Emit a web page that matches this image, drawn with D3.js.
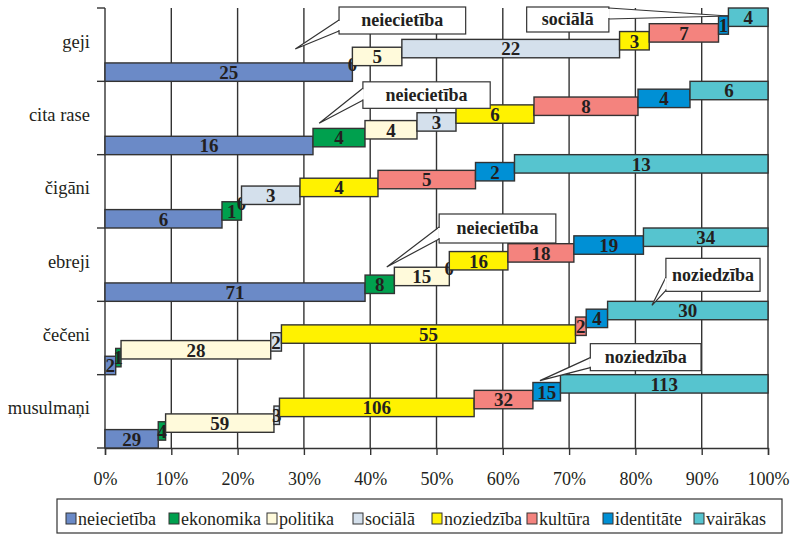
<!DOCTYPE html>
<html>
<head>
<meta charset="utf-8">
<title>Stacked bars</title>
<script src="https://cdn.jsdelivr.net/npm/d3@7"></script>
<style>
  body { margin: 0; background: #fff; }
  svg { display: block; }
  svg text { font-family: "Liberation Serif", "Times New Roman", serif; }
</style>
</head>
<body>
<div class="chart"></div>
<script>
const categories = ["geji", "cita rase", "čigāni", "ebreji", "čečeni", "musulmaņi"];
const seriesNames = ["neiecietība", "ekonomika", "politika", "sociālā", "noziedzība", "kultūra", "identitāte", "vairākas"];
const seriesColors = ["#6b8ac7", "#00a04e", "#fffadb", "#d4e0ec", "#fff200", "#f4837e", "#0090d5", "#56c4cf"];
// one row per category, one value per series
const values = [
    [25, 0, 5, 22, 3, 7, 1, 4],
    [16, 4, 4, 3, 6, 8, 4, 6],
    [6, 1, 0, 3, 4, 5, 2, 13],
    [71, 8, 15, 0, 16, 18, 19, 34],
    [2, 1, 28, 2, 55, 2, 4, 30],
    [29, 4, 59, 3, 106, 32, 15, 113]
];
const xTicks = [0, 10, 20, 30, 40, 50, 60, 70, 80, 90, 100];
// callouts: box corners in % / px from band top, wedge base and tip
const callouts = [
    {cat: "geji", text: "neiecietība", bx0: 35.3, bx1: 54.4, by0: -1, by1: 26, side: "left", base: [12, 23], tip: [28.7, 41]},
    {cat: "geji", text: "sociālā", bx0: 63.6, bx1: 76.0, by0: -1, by1: 24, side: "right", base: [0, 11], tip: [94.0, 8]},
    {cat: "cita rase", text: "neiecietība", bx0: 38.9, bx1: 58.1, by0: 0.5, by1: 27, side: "left", base: [7, 19], tip: [32.3, 42]},
    {cat: "ebreji", text: "neiecietība", bx0: 50.4, bx1: 68.0, by0: -14, by1: 15, side: "left", base: [-1, 11], tip: [42.5, 39]},
    {cat: "čečeni", text: "noziedzība", bx0: 84.6, bx1: 98.8, by0: -43, by1: -10, side: "left", base: [-24, -11], tip: [82.5, 4]},
    {cat: "musulmaņi", text: "noziedzība", bx0: 73.2, bx1: 89.9, by0: -31, by1: -4, side: "left", base: [-17, -7], tip: [65.6, 6]}
];
const legendX = [66, 169, 267, 353, 432, 527, 603, 694];

const ink = "#231f20";

const svg = d3.select(".chart").append("svg")
    .attr("width", 794)
    .attr("height", 535);

const x = d3.scaleLinear().domain([0, 100]).range([105, 768]);
const y = d3.scaleBand().domain(categories).range([8, 448]).padding(0);
const barH = 18.4;
const step = d3.scaleLinear().domain([0, seriesNames.length - 1]).range([y.bandwidth() - barH, 0]);

// grid lines
svg.append("g")
    .selectAll("line")
    .data(xTicks.slice(1))
    .join("line")
    .attr("x1", d => x(d)).attr("x2", d => x(d))
    .attr("y1", 8).attr("y2", 448)
    .attr("stroke", "#333").attr("stroke-width", 1.4);

// axes
const xAxis = svg.append("g")
    .attr("transform", "translate(0,448)")
    .call(d3.axisBottom(x).tickValues(xTicks).tickFormat(d => d + "%").tickSize(7).tickPadding(17));
xAxis.attr("font-family", null).attr("font-size", null);
xAxis.select(".domain").attr("stroke", "#333").attr("stroke-width", 1.4);
xAxis.selectAll(".tick line").attr("stroke", "#333").attr("stroke-width", 1.4);
xAxis.selectAll(".tick text")
    .attr("font-size", "18px").attr("fill", ink);

const yAxisG = svg.append("g");
yAxisG.append("line")
    .attr("x1", 105).attr("x2", 105).attr("y1", 8).attr("y2", 448)
    .attr("stroke", "#333").attr("stroke-width", 1.4);
const bounds = categories.map(c => y(c)).concat([y(categories[categories.length - 1]) + y.bandwidth()]);
yAxisG.selectAll("line.tk")
    .data(bounds)
    .join("line")
    .attr("class", "tk")
    .attr("x1", 97).attr("x2", 105)
    .attr("y1", d => d).attr("y2", d => d)
    .attr("stroke", "#333").attr("stroke-width", 1.4);
yAxisG.selectAll("text")
    .data(categories)
    .join("text")
    .attr("x", 90)
    .attr("y", d => y(d) + y.bandwidth() / 2 + 3)
    .attr("text-anchor", "end")
    .attr("font-size", "18.5px").attr("fill", ink)
    .text(d => d);

// segments, drawn series by series so later bars overlap earlier labels
const segs = [];
categories.forEach((c, ci) => {
    const total = d3.sum(values[ci]);
    let cum = 0;
    values[ci].forEach((v, si) => {
        segs.push({cat: c, s: si, v: v, p0: cum / total * 100, p1: (cum + v) / total * 100});
        cum += v;
    });
});

const bars = svg.append("g");
seriesNames.forEach((name, si) => {
    const g = bars.append("g");
    const data = segs.filter(d => d.s === si);
    g.selectAll("rect")
        .data(data.filter(d => d.v > 0))
        .join("rect")
        .attr("x", d => x(d.p0))
        .attr("y", d => y(d.cat) + step(si))
        .attr("width", d => x(d.p1) - x(d.p0))
        .attr("height", barH)
        .attr("fill", seriesColors[si])
        .attr("stroke", "#333")
        .attr("stroke-width", 1.4);
    g.selectAll("text")
        .data(data)
        .join("text")
        .attr("x", d => x((d.p0 + d.p1) / 2))
        .attr("y", d => y(d.cat) + step(si) + barH / 2)
        .attr("dy", "0.36em")
        .attr("text-anchor", "middle")
        .attr("font-size", "19px").attr("font-weight", "bold")
        .attr("fill", ink)
        .text(d => d.v);
});

// callouts
const co = svg.append("g");
callouts.forEach(c => {
    const top = y(c.cat);
    const bx = c.side === "left" ? x(c.bx0) : x(c.bx1);
    co.append("path")
        .attr("d", `M${bx},${top + c.base[0]}L${x(c.tip[0])},${top + c.tip[1]}L${bx},${top + c.base[1]}`)
        .attr("fill", "#fff").attr("stroke", "#333").attr("stroke-width", 1.2);
    co.append("rect")
        .attr("x", x(c.bx0)).attr("y", top + c.by0)
        .attr("width", x(c.bx1) - x(c.bx0)).attr("height", c.by1 - c.by0)
        .attr("fill", "#fff").attr("stroke", "#333").attr("stroke-width", 1.2);
    // hide the box edge where the wedge joins
    co.append("line")
        .attr("x1", bx).attr("x2", bx)
        .attr("y1", top + c.base[0] + 1).attr("y2", top + c.base[1] - 1)
        .attr("stroke", "#fff").attr("stroke-width", 2);
    co.append("text")
        .attr("x", (x(c.bx0) + x(c.bx1)) / 2)
        .attr("y", top + (c.by0 + c.by1) / 2)
        .attr("dy", "0.33em")
        .attr("text-anchor", "middle")
        .attr("font-size", "18px").attr("font-weight", "bold")
        .attr("fill", ink)
        .text(c.text);
});

// legend
const lg = svg.append("g");
lg.append("rect")
    .attr("x", 57).attr("y", 499).attr("width", 725).attr("height", 34)
    .attr("fill", "#fff").attr("stroke", "#333").attr("stroke-width", 1.2);
const items = lg.selectAll("g.item")
    .data(seriesNames)
    .join("g")
    .attr("class", "item")
    .attr("transform", (d, i) => `translate(${legendX[i]},0)`);
items.append("rect")
    .attr("x", 0).attr("y", 513).attr("width", 10).attr("height", 11)
    .attr("fill", (d, i) => seriesColors[i])
    .attr("stroke", "#333").attr("stroke-width", 1);
items.append("text")
    .attr("x", 12).attr("y", 525)
    .attr("font-size", "18px").attr("fill", ink)
    .text(d => d);
</script>
</body>
</html>
